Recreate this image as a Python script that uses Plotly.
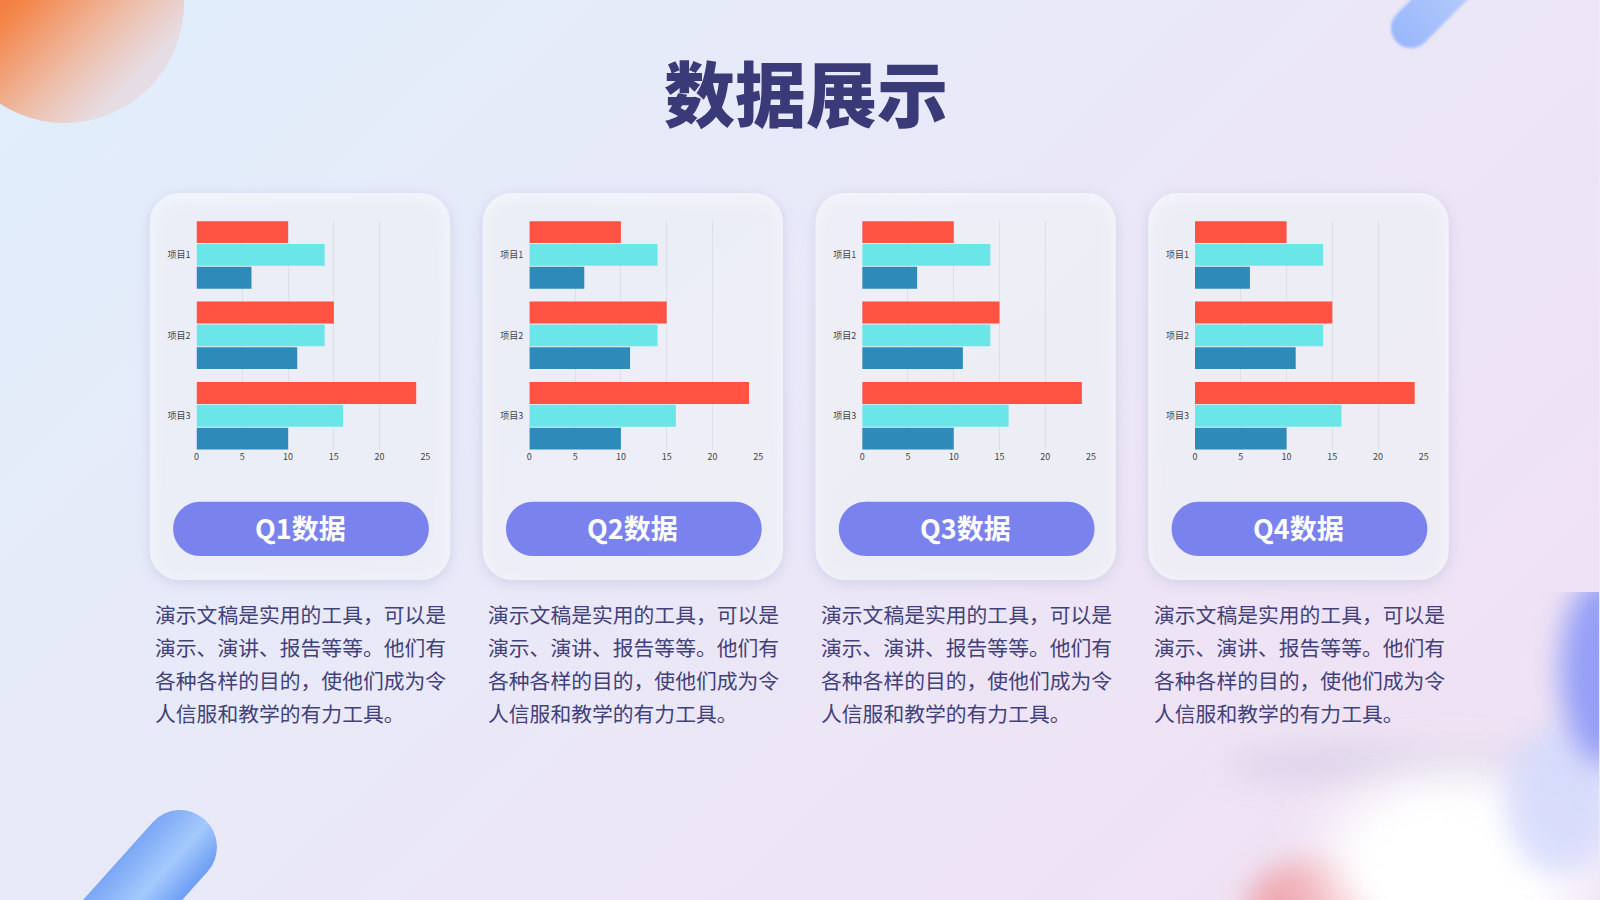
import base64
import plotly.graph_objects as go

W, H = 1600, 900

# chart data (same for every quarter card)
categories = ["项目1", "项目2", "项目3"]
series_red = [10, 15, 24]
series_cyan = [14, 14, 16]
series_blue = [6, 11, 10]
x_ticks = [0, 5, 10, 15, 20, 25]

quarters = ["Q1数据", "Q2数据", "Q3数据", "Q4数据"]
title = "数据展示"
desc_lines = [
    "演示文稿是实用的工具，可以是",
    "演示、演讲、报告等等。他们有",
    "各种各样的目的，使他们成为令",
    "人信服和教学的有力工具。",
]

colors = ["#fe5243", "#6be6e8", "#2d8ab9"]
FONT = "Noto Sans CJK SC"

card_lefts = [147.5, 482, 816.5, 1151]
card_w, card_top, card_bottom, card_r = 302, 193, 580, 30


def px(x):
    return x / W


def py(y):
    return 1 - y / H


def rounded_rect(x0, y0, x1, y1, r):
    k = 0.5523 * r
    pts = [
        f"M {px(x0 + r)},{py(y0)}",
        f"L {px(x1 - r)},{py(y0)}",
        f"C {px(x1 - r + k)},{py(y0)} {px(x1)},{py(y0 + r - k)} {px(x1)},{py(y0 + r)}",
        f"L {px(x1)},{py(y1 - r)}",
        f"C {px(x1)},{py(y1 - r + k)} {px(x1 - r + k)},{py(y1)} {px(x1 - r)},{py(y1)}",
        f"L {px(x0 + r)},{py(y1)}",
        f"C {px(x0 + r - k)},{py(y1)} {px(x0)},{py(y1 - r + k)} {px(x0)},{py(y1 - r)}",
        f"L {px(x0)},{py(y0 + r)}",
        f"C {px(x0)},{py(y0 + r - k)} {px(x0 + r - k)},{py(y0)} {px(x0 + r)},{py(y0)}",
        "Z",
    ]
    return " ".join(pts)


# background decoration as an svg image (a few px bleed on every side)
PAD = 4
FR = 'filterUnits="userSpaceOnUse" x="-200" y="-200" width="2000" height="1300"'
shadows = "".join(
    f'<rect x="{l}" y="{card_top + 3}" width="{card_w}" height="{card_bottom - card_top}" rx="{card_r}" '
    f'fill="#b0b6d8" opacity="0.45" filter="url(#sh)"/>'
    for l in card_lefts
)
svg = f'''<svg xmlns="http://www.w3.org/2000/svg" width="{W + 2 * PAD}" height="{H + 2 * PAD}" viewBox="{-PAD} {-PAD} {W + 2 * PAD} {H + 2 * PAD}" preserveAspectRatio="none">
<defs>
<linearGradient id="bg" x1="0" y1="0" x2="1" y2="0.6">
<stop offset="0" stop-color="#e0eefb"/><stop offset="0.5" stop-color="#e9e9f8"/><stop offset="1" stop-color="#efe2f4"/>
</linearGradient>
<linearGradient id="org" x1="0.15" y1="0.2" x2="0.85" y2="0.9">
<stop offset="0.05" stop-color="#f3661f"/><stop offset="0.35" stop-color="#f4874c"/>
<stop offset="0.65" stop-color="#eebba4"/><stop offset="0.9" stop-color="#e6dde4"/>
</linearGradient>
<linearGradient id="cap" gradientUnits="userSpaceOnUse" x1="150" y1="822" x2="206" y2="872">
<stop offset="0" stop-color="#7aa6f6"/><stop offset="0.55" stop-color="#a4cafc"/><stop offset="1" stop-color="#6c9cf4"/>
</linearGradient>
<linearGradient id="stk" gradientUnits="userSpaceOnUse" x1="1400" y1="40" x2="1480" y2="-30">
<stop offset="0" stop-color="#9ab7fa"/><stop offset="1" stop-color="#b8cffc"/>
</linearGradient>
<filter id="sh" {FR}><feGaussianBlur stdDeviation="7"/></filter>
<filter id="b1" {FR}><feGaussianBlur stdDeviation="1.5"/></filter>
<filter id="b2" {FR}><feGaussianBlur stdDeviation="28"/></filter>
<filter id="b3" {FR}><feGaussianBlur stdDeviation="14"/></filter>
<clipPath id="rc"><rect x="1400" y="592" width="220" height="320"/></clipPath>
</defs>
<rect x="{-PAD}" y="{-PAD}" width="{W + 2 * PAD}" height="{H + 2 * PAD}" fill="url(#bg)"/>
<circle cx="62" cy="3" r="120" fill="url(#org)"/>
<line x1="1415" y1="28" x2="1505" y2="-62" stroke="url(#stk)" stroke-width="40" stroke-linecap="round" filter="url(#b1)"/>
<line x1="178" y1="847" x2="40" y2="1000" stroke="url(#cap)" stroke-width="74" stroke-linecap="round"/>
<ellipse cx="1400" cy="765" rx="170" ry="22" fill="#d8cfe6" opacity="0.7" filter="url(#b3)"/>
<ellipse cx="1320" cy="905" rx="70" ry="45" fill="#f0a0a8" opacity="0.85" filter="url(#b3)"/>
<ellipse cx="1460" cy="865" rx="135" ry="95" fill="#ffffff" filter="url(#b2)"/>
<ellipse cx="1460" cy="870" rx="90" ry="60" fill="#ffffff" opacity="0.8" filter="url(#b3)"/>
<ellipse cx="1565" cy="800" rx="55" ry="75" fill="#d6dbfc" opacity="0.9" filter="url(#b3)"/>
<g clip-path="url(#rc)"><ellipse cx="1610" cy="670" rx="45" ry="95" fill="#949ff7" filter="url(#b3)"/></g>
{shadows}
</svg>'''
bg_src = "data:image/svg+xml;base64," + base64.b64encode(svg.encode("utf-8")).decode()

fig = go.Figure()
layout_axes = {}
for i, left in enumerate(card_lefts):
    n = "" if i == 0 else str(i + 1)
    for vals, col in zip([series_red, series_cyan, series_blue], colors):
        fig.add_trace(go.Bar(
            x=vals, y=categories, orientation="h", marker=dict(color=col, line=dict(width=0)),
            xaxis="x" + n, yaxis="y" + n, showlegend=False,
        ))
    layout_axes["xaxis" + n] = dict(
        domain=[px(left + 47), px(left + 277)], anchor="y" + n, range=[0, 25],
        tickvals=x_ticks, showgrid=True, gridcolor="#dcdfe9", gridwidth=1, zeroline=False,
        showline=False, ticks="", tickfont=dict(family=FONT, size=9, color="#444"), fixedrange=True,
    )
    layout_axes["yaxis" + n] = dict(
        domain=[py(450), py(220.7)], anchor="x" + n, type="category", range=[2.425, -0.425],
        showgrid=False, zeroline=False, showline=False, ticks="", ticklabelstandoff=5,
        tickfont=dict(family=FONT, size=9, color="#444"), fixedrange=True,
    )

shapes = []
annotations = [dict(
    text=title, x=px(807), y=py(90), xref="paper", yref="paper", showarrow=False,
    xanchor="center", yanchor="middle",
    font=dict(family=FONT, size=71, color="#3a3a78", weight=900),
)]
for i, left in enumerate(card_lefts):
    shapes.append(dict(type="path", xref="paper", yref="paper", layer="below",
                       path=rounded_rect(left, card_top, left + card_w, card_bottom, card_r),
                       fillcolor="rgba(255,255,255,0.62)", line=dict(width=0)))
    shapes.append(dict(type="path", xref="paper", yref="paper", layer="below",
                       path=rounded_rect(left + 23.5, 501.7, left + 280.5, 556, 27),
                       fillcolor="#7a82ee", line=dict(width=0)))
    annotations.append(dict(
        text=quarters[i], x=px(left + 151), y=py(527), xref="paper", yref="paper",
        showarrow=False, xanchor="center", yanchor="middle",
        font=dict(family=FONT, size=27, color="#ffffff", weight=700),
    ))
    for j, line in enumerate(desc_lines):
        annotations.append(dict(
            text=line, x=px(left + 3.5), y=py(614 + 33 * j), xref="paper", yref="paper",
            showarrow=False, xanchor="left", yanchor="middle",
            font=dict(family=FONT, size=20.8, color="#42417a"),
        ))

fig.update_layout(
    width=W, height=H, margin=dict(l=0, r=0, t=0, b=0),
    paper_bgcolor="#e8ebf8", plot_bgcolor="rgba(0,0,0,0)",
    barmode="group", bargap=0.15, bargroupgap=0.04, showlegend=False,
    images=[dict(source=bg_src, xref="paper", yref="paper", x=-PAD / W, y=1 + PAD / H,
                 sizex=1 + 2 * PAD / W, sizey=1 + 2 * PAD / H,
                 xanchor="left", yanchor="top", sizing="stretch", layer="below")],
    shapes=shapes, annotations=annotations,
    **layout_axes,
)

fig.write_html("out.html", config={"displayModeBar": False},
               post_script="document.body.style.margin='0';document.body.style.overflow='hidden';")
